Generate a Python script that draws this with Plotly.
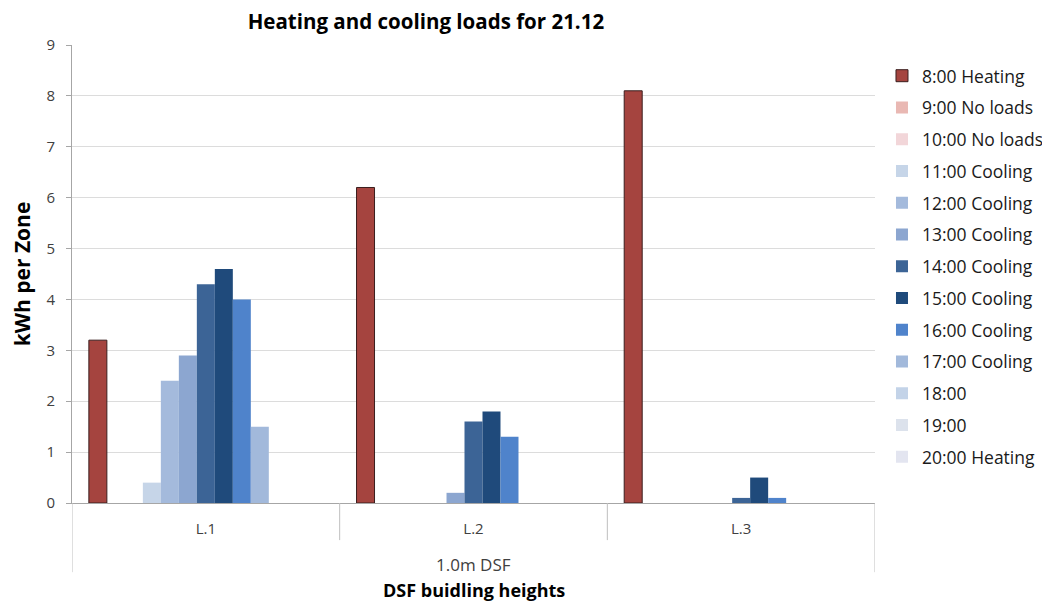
import plotly.graph_objects as go

categories = ["L.1", "L.2", "L.3"]
series_names = ["8:00 Heating", "9:00 No loads", "10:00 No loads", "11:00 Cooling",
                "12:00 Cooling", "13:00 Cooling", "14:00 Cooling", "15:00 Cooling",
                "16:00 Cooling", "17:00 Cooling", "18:00", "19:00", "20:00 Heating"]
v_0800 = [3.2, 6.2, 8.1]
v_0900 = [0, 0, 0]
v_1000 = [0, 0, 0]
v_1100 = [0.4, 0, 0]
v_1200 = [2.4, 0, 0]
v_1300 = [2.9, 0.2, 0]
v_1400 = [4.3, 1.6, 0.1]
v_1500 = [4.6, 1.8, 0.5]
v_1600 = [4.0, 1.3, 0.1]
v_1700 = [1.5, 0, 0]
v_1800 = [0, 0, 0]
v_1900 = [0, 0, 0]
v_2000 = [0, 0, 0]
series_values = [v_0800, v_0900, v_1000, v_1100, v_1200, v_1300, v_1400,
                 v_1500, v_1600, v_1700, v_1800, v_1900, v_2000]
colors = ["#A5443F", "#E9B8B3", "#F2D6D9", "#C6D5E8", "#A4BADC", "#8CA6D0",
          "#3C6496", "#1F4A7B", "#4F83CB", "#A2B9DB", "#C3D3E8", "#DCE2EC", "#E3E5F0"]

FONT = "Open Sans"
fig = go.Figure()
for i, (name, vals, col) in enumerate(zip(series_names, series_values, colors)):
    fig.add_trace(go.Bar(
        x=categories, y=vals, name=name, legendgroup=name,
        marker=dict(color=col,
                    line=dict(color="#3A1E1E" if i == 0 else col, width=1 if i == 0 else 0)),
    ))

fig.update_layout(
    width=1050, height=602,
    margin=dict(l=64, r=183, t=37, b=107, autoexpand=False),
    paper_bgcolor="white", plot_bgcolor="white",
    barmode="group", bargap=0.126, bargroupgap=0,
    font=dict(family=FONT, color="#404040"),
    title=dict(text="<b>Heating and cooling loads for 21.12</b>", x=0.398, xanchor="center",
               y=0.977, yanchor="middle", font=dict(size=20.5, color="#000000", family=FONT)),
    showlegend=True,
    legend=dict(x=1.0087, xanchor="left", y=0.972, yanchor="top",
                font=dict(size=17.5, color="#1a1a1a", family=FONT),
                tracegroupgap=6, bgcolor="rgba(0,0,0,0)"),
    yaxis=dict(range=[0, 9], dtick=1, showgrid=True, gridcolor="#DCDCDC", gridwidth=1,
               showline=True, linecolor="#A6A6A6", linewidth=1, ticks="outside",
               ticklen=5, tickcolor="#A6A6A6", tickfont=dict(size=15, color="#404040"),
               ticklabelstandoff=8, zeroline=False, automargin=False,
               title=dict(text="<b>kWh per Zone</b>", font=dict(size=21, color="#000000"),
                          standoff=21)),
    xaxis=dict(showline=True, linecolor="#A6A6A6", linewidth=1, ticks="",
               tickfont=dict(size=15, color="#404040"), ticklabelstandoff=12,
               range=[-0.5, 2.5], automargin=False),
)

# category dividers of the multi-level axis
divs = [(-0.5, -0.151), (0.5, -0.081), (1.5, -0.081), (2.5, -0.151)]
for xv, yb in divs:
    fig.add_shape(type="line", xref="x", yref="paper", x0=xv, x1=xv, y0=0, y1=yb,
                  line=dict(color="#BFBFBF", width=1))

fig.add_annotation(text="1.0m DSF", xref="paper", yref="paper", x=0.5, y=-0.135,
                   showarrow=False, font=dict(size=17, color="#404040", family=FONT),
                   xanchor="center", yanchor="middle")
fig.add_annotation(text="<b>DSF buidling heights</b>", xref="paper", yref="paper", x=0.5,
                   y=-0.19, showarrow=False,
                   font=dict(size=18, color="#000000", family=FONT),
                   xanchor="center", yanchor="middle")

fig.write_html("out.html")
